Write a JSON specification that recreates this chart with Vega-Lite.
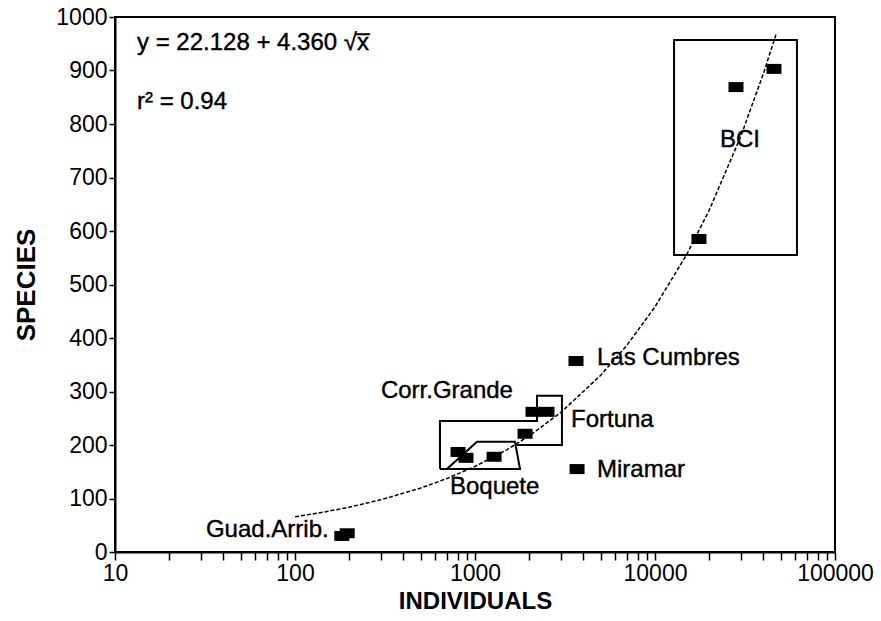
{
  "$schema": "https://vega.github.io/schema/vega-lite/v6.json",
  "width": 720,
  "height": 535,
  "autosize": {"type": "none"},
  "padding": {"left": 115, "top": 17, "right": 46, "bottom": 69},
  "background": "white",
  "config": {
    "view": {"stroke": "black", "strokeWidth": 2},
    "font": "Liberation Sans",
    "axis": {
      "grid": false,
      "domainColor": "black",
      "domainWidth": 2,
      "tickColor": "black",
      "tickWidth": 1.5,
      "tickSize": 8,
      "labelColor": "black",
      "labelFont": "Liberation Sans",
      "labelFontSize": 23,
      "titleFont": "Liberation Sans",
      "titleFontSize": 24,
      "titleFontWeight": "bold",
      "titleColor": "black"
    }
  },
  "datasets": {
    "points": [
      {"site": "Guad.Arrib.", "ind": 182, "sp": 30},
      {"site": "Guad.Arrib.", "ind": 195, "sp": 35},
      {"site": "Boquete", "ind": 805, "sp": 187},
      {"site": "Boquete", "ind": 891, "sp": 176},
      {"site": "Boquete", "ind": 1276, "sp": 178},
      {"site": "Corr.Grande", "ind": 1897, "sp": 221},
      {"site": "Fortuna", "ind": 2100, "sp": 262},
      {"site": "Fortuna", "ind": 2512, "sp": 262},
      {"site": "Las Cumbres", "ind": 3640, "sp": 357},
      {"site": "Miramar", "ind": 3690, "sp": 155},
      {"site": "BCI", "ind": 17550, "sp": 585},
      {"site": "BCI", "ind": 28180, "sp": 869},
      {"site": "BCI", "ind": 45810, "sp": 903}
    ],
    "curve": [
      {"x": 100, "y": 65.73},
      {"x": 150, "y": 75.53},
      {"x": 200, "y": 83.79},
      {"x": 300, "y": 97.65},
      {"x": 500, "y": 119.62},
      {"x": 700, "y": 137.48},
      {"x": 1000, "y": 160.01},
      {"x": 1500, "y": 190.99},
      {"x": 2000, "y": 217.12},
      {"x": 3000, "y": 260.94},
      {"x": 5000, "y": 330.43},
      {"x": 7000, "y": 386.91},
      {"x": 10000, "y": 458.13},
      {"x": 15000, "y": 556.12},
      {"x": 20000, "y": 638.73},
      {"x": 30000, "y": 777.30},
      {"x": 40000, "y": 894.13},
      {"x": 47000, "y": 967.36}
    ],
    "outlines": [
      {"g": "cg", "i": 0, "x": 639, "y": 155},
      {"g": "cg", "i": 1, "x": 639, "y": 245},
      {"g": "cg", "i": 2, "x": 2210, "y": 245},
      {"g": "cg", "i": 3, "x": 2210, "y": 292},
      {"g": "cg", "i": 4, "x": 3041, "y": 292},
      {"g": "cg", "i": 5, "x": 3041, "y": 200},
      {"g": "cg", "i": 6, "x": 1711, "y": 200},
      {"g": "bq", "i": 0, "x": 639, "y": 155},
      {"g": "bq", "i": 1, "x": 1778, "y": 155},
      {"g": "bq", "i": 2, "x": 1668, "y": 206},
      {"g": "bq", "i": 3, "x": 1026, "y": 206},
      {"g": "bq", "i": 4, "x": 698, "y": 155}
    ],
    "boxes": [
      {"x": 12760, "x2": 61480, "y": 555, "y2": 957}
    ],
    "labels": [
      {"t": "Las Cumbres", "x": 4762, "y": 363},
      {"t": "Miramar", "x": 4762, "y": 153},
      {"t": "Fortuna", "x": 3415, "y": 247},
      {"t": "Corr.Grande", "x": 300, "y": 301},
      {"t": "Boquete", "x": 726, "y": 121},
      {"t": "Guad.Arrib.", "x": 32, "y": 41},
      {"t": "y = 22.128 + 4.360 √x̅", "x": 13.25, "y": 951},
      {"t": "r² = 0.94", "x": 13.25, "y": 841}
    ],
    "clabels": [
      {"t": "BCI", "x": 29650, "y": 770}
    ]
  },
  "layer": [
    {
      "data": {"name": "curve"},
      "mark": {"type": "line", "color": "black", "strokeWidth": 1.5, "strokeDash": [4, 2]},
      "encoding": {
        "x": {"field": "x", "type": "quantitative",
          "scale": {"type": "log", "domain": [10, 100000], "nice": false},
          "axis": {
            "title": "INDIVIDUALS",
            "values": [10,20,30,40,50,60,70,80,90,100,200,300,400,500,600,700,800,900,1000,2000,3000,4000,5000,6000,7000,8000,9000,10000,20000,30000,40000,50000,60000,70000,80000,90000,100000],
            "format": "d",
            "labelExpr": "(datum.value==10||datum.value==100||datum.value==1000||datum.value==10000||datum.value==100000) ? datum.label : ''",
            "labelOverlap": false,
            "labelBound": false,
            "labelFlush": false,
            "labelPadding": 2,
            "titlePadding": 4
          }
        },
        "y": {"field": "y", "type": "quantitative",
          "scale": {"domain": [0, 1000], "nice": false},
          "axis": {
            "title": "SPECIES",
            "titleFontSize": 26,
            "values": [0,100,200,300,400,500,600,700,800,900,1000],
            "format": "d",
            "tickSize": 6,
            "labelPadding": 2,
            "titlePadding": 16
          }
        }
      }
    },
    {
      "data": {"name": "outlines"},
      "mark": {"type": "line", "color": "black", "strokeWidth": 2},
      "encoding": {
        "x": {"field": "x", "type": "quantitative"},
        "y": {"field": "y", "type": "quantitative"},
        "detail": {"field": "g"},
        "order": {"field": "i", "type": "quantitative"}
      }
    },
    {
      "data": {"name": "boxes"},
      "mark": {"type": "rect", "fill": null, "fillOpacity": 0, "stroke": "black", "strokeWidth": 2},
      "encoding": {
        "x": {"field": "x", "type": "quantitative"},
        "x2": {"field": "x2"},
        "y": {"field": "y", "type": "quantitative"},
        "y2": {"field": "y2"}
      }
    },
    {
      "data": {"name": "points"},
      "mark": {"type": "point", "shape": "M-1,-0.667H1V0.667H-1Z", "size": 225, "filled": true, "color": "black", "opacity": 1},
      "encoding": {
        "x": {"field": "ind", "type": "quantitative"},
        "y": {"field": "sp", "type": "quantitative"}
      }
    },
    {
      "data": {"name": "labels"},
      "mark": {"type": "text", "fontSize": 24, "font": "Liberation Sans", "color": "black", "stroke": "black", "strokeWidth": 0.4, "baseline": "middle", "align": "left"},
      "encoding": {
        "x": {"field": "x", "type": "quantitative"},
        "y": {"field": "y", "type": "quantitative"},
        "text": {"field": "t"}
      }
    },
    {
      "data": {"name": "clabels"},
      "mark": {"type": "text", "fontSize": 24, "font": "Liberation Sans", "color": "black", "stroke": "black", "strokeWidth": 0.4, "baseline": "middle", "align": "center"},
      "encoding": {
        "x": {"field": "x", "type": "quantitative"},
        "y": {"field": "y", "type": "quantitative"},
        "text": {"field": "t"}
      }
    }
  ]
}
